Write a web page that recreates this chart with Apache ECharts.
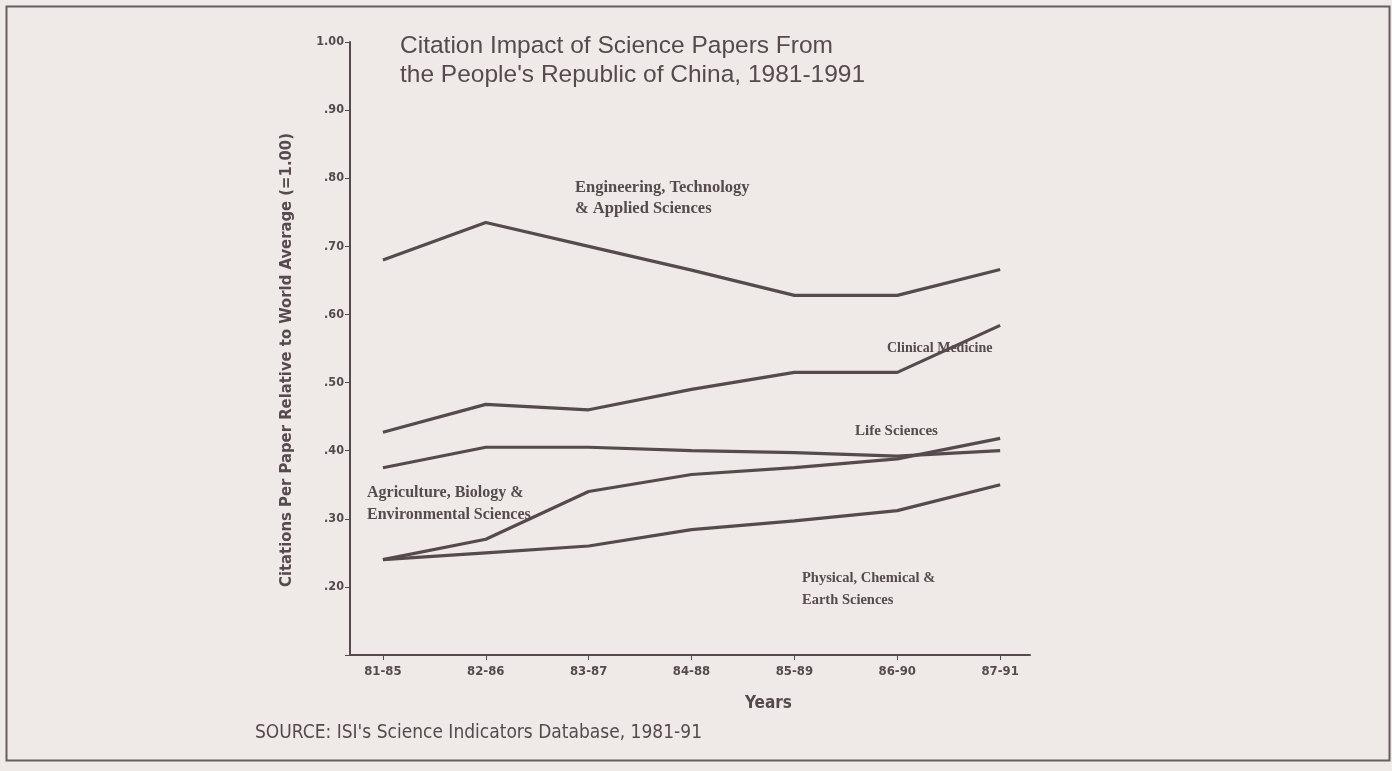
<!DOCTYPE html>
<html><head><meta charset="utf-8">
<script src="https://cdn.jsdelivr.net/npm/echarts@6/dist/echarts.min.js"></script>
<style>html,body{margin:0;padding:0;background:#efe9e8;}#c{width:1392px;height:771px;}</style>
</head><body><div id="c"></div>
<script>
const categories = ['81-85','82-86','83-87','84-88','85-89','86-90','87-91'];
const engineering = [0.68, 0.735, 0.70, 0.665, 0.628, 0.628, 0.666];
const clinical = [0.427, 0.468, 0.46, 0.49, 0.515, 0.515, 0.584];
const life = [0.375, 0.405, 0.405, 0.40, 0.397, 0.392, 0.40];
const agriculture = [0.24, 0.27, 0.34, 0.365, 0.375, 0.388, 0.418];
const physical = [0.24, 0.25, 0.26, 0.284, 0.297, 0.312, 0.35];
const seriesNames = ['Engineering, Technology & Applied Sciences','Clinical Medicine','Life Sciences','Agriculture, Biology & Environmental Sciences','Physical, Chemical & Earth Sciences'];
const seriesValues = [engineering, clinical, life, agriculture, physical];

const ink = '#564a4e';
const chart = echarts.init(document.getElementById('c'));
const narrow = "'DejaVu Sans Condensed','Liberation Sans',sans-serif";
const serif = "'Liberation Serif','DejaVu Serif',serif";
const idx = categories.map((c, i) => i);

chart.setOption({
  backgroundColor: '#efe9e8',
  animation: false,
  grid: { left: 350, right: 362, top: 42, bottom: 116 },
  xAxis: {
    type: 'value', min: -0.32, max: 6.29,
    splitLine: { show: false },
    axisLine: { onZero: false, lineStyle: { color: ink, width: 2 } },
    axisTick: { customValues: idx, length: 5, lineStyle: { color: ink } },
    axisLabel: { customValues: idx, formatter: v => categories[Math.round(v)], color: ink,
      fontFamily: narrow, fontWeight: 'bold', fontSize: 13, margin: 10 }
  },
  yAxis: {
    type: 'value', min: 0.1, max: 1.0, interval: 0.1,
    splitLine: { show: false },
    axisLine: { show: true, onZero: false, lineStyle: { color: ink, width: 2 } },
    axisTick: { show: true, length: 5, lineStyle: { color: ink } },
    axisLabel: { color: ink, fontFamily: narrow, fontWeight: 'bold', fontSize: 12.5, margin: 6,
      formatter: v => v < 0.15 ? '' : (v > 0.995 ? '1.00' : '.' + Math.round(v * 100)) }
  },
  series: seriesValues.map((vals, s) => ({
    type: 'line', name: seriesNames[s], data: vals.map((v, i) => [i, v]),
    symbol: 'none', lineStyle: { color: ink, width: 3.2 }
  })),
  graphic: [
    { type: 'rect', left: 4, top: 4, shape: { width: 1383, height: 754 }, style: { fill: 'none', stroke: '#6a5d61', lineWidth: 2 } },
    { type: 'text', left: 400, top: 34, style: { text: 'Citation Impact of Science Papers From', font: "24.5px 'Liberation Sans',Arial,sans-serif", fill: ink } },
    { type: 'text', left: 400, top: 63, style: { text: "the People's Republic of China, 1981-1991", font: "24.5px 'Liberation Sans',Arial,sans-serif", fill: ink } },
    { type: 'text', x: 287, y: 360, rotation: Math.PI / 2, style: { text: 'Citations Per Paper Relative to World Average (=1.00)', font: "bold 16.5px " + narrow, fill: ink, align: 'center', verticalAlign: 'middle' } },
    { type: 'text', left: 575, top: 177, style: { text: 'Engineering, Technology\n& Applied Sciences', font: "bold 16.5px " + serif, fill: ink, lineHeight: 21 } },
    { type: 'text', left: 887, top: 341, style: { text: 'Clinical Medicine', font: "bold 14px " + serif, fill: ink } },
    { type: 'text', left: 855, top: 424, style: { text: 'Life Sciences', font: "bold 15px " + serif, fill: ink } },
    { type: 'text', left: 367, top: 482, style: { text: 'Agriculture, Biology &\nEnvironmental Sciences', font: "bold 16px " + serif, fill: ink, lineHeight: 22 } },
    { type: 'text', left: 802, top: 567, style: { text: 'Physical, Chemical &\nEarth Sciences', font: "bold 14.5px " + serif, fill: ink, lineHeight: 22 } },
    { type: 'text', left: 745, top: 695, style: { text: 'Years', font: "bold 17px " + narrow, fill: ink } },
    { type: 'text', left: 255, top: 724, style: { text: "SOURCE: ISI's Science Indicators Database, 1981-91", font: "19px " + narrow, fill: ink } }
  ]
});
</script></body></html>
